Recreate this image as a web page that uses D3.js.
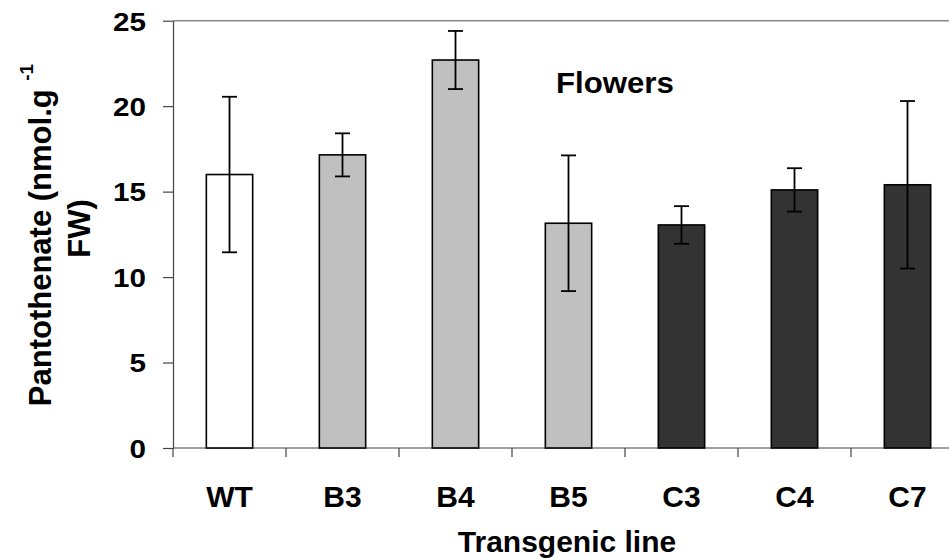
<!DOCTYPE html>
<html lang="en">
<head>
<meta charset="utf-8">
<title>Pantothenate - Flowers</title>
<style>
	body {
		margin: 0px;
		background-color: #ffffff;
		overflow: hidden;
	}
	text {
		font-family: "Liberation Sans", Arial, sans-serif;
		font-weight: bold;
		fill: #000;
	}
</style>
</head>
<body>
<svg id="chart" width="949" height="559"></svg>
<script src="https://cdn.jsdelivr.net/npm/d3@7/dist/d3.min.js"></script>
<script>
// values
var lines = ["WT", "B3", "B4", "B5", "C3", "C4", "C7"];
var means = [16.0, 17.15, 22.7, 13.15, 13.05, 15.1, 15.4];
var errs = [4.55, 1.26, 1.7, 3.97, 1.1, 1.27, 4.9];
var groups = ["WT", "B", "B", "B", "C", "C", "C"];
var yTicks = [0, 5, 10, 15, 20, 25];

var svg = d3.select("#chart");
// note: "top" is a read-only global in browsers, so use other names
var plotLeft = 173, plotRight = 964, plotTop = 20.7, plotBottom = 448;

var x = d3.scaleBand()
	.domain(lines)
	.range([plotLeft, plotRight])
	.paddingInner(0.59)
	.paddingOuter(0.295);

var y = d3.scaleLinear()
	.domain([0, 25])
	.range([plotBottom, plotTop]);

var fill = d3.scaleOrdinal()
	.domain(["WT", "B", "C"])
	.range(["#ffffff", "#c0c0c0", "#333333"]);

// top frame line
svg.append("line")
	.attr("x1", plotLeft).attr("x2", 949)
	.attr("y1", y(25)).attr("y2", y(25))
	.attr("stroke", "#888").attr("stroke-width", 1.4);

// y axis
var yAxis = svg.append("g")
	.attr("transform", "translate(" + plotLeft + ",0)")
	.call(d3.axisLeft(y).tickValues(yTicks).tickSize(10).tickPadding(13).tickSizeOuter(0));
yAxis.select(".domain").attr("stroke", "#444").attr("stroke-width", 1.2);
yAxis.selectAll(".tick line").attr("stroke", "#444").attr("stroke-width", 1.2);
yAxis.selectAll(".tick text")
	.style("font-size", "26px")
	.attr("dy", "0.36em")
	.attr("transform", "scale(1.14,1)")
	.attr("x", -23.7);

// x axis line + category ticks at band edges
svg.append("line")
	.attr("x1", plotLeft).attr("x2", 949)
	.attr("y1", plotBottom).attr("y2", plotBottom)
	.attr("stroke", "#444").attr("stroke-width", 1.2);

svg.selectAll(".cattick")
	.data(d3.range(lines.length + 1))
	.enter().append("line")
	.attr("class", "cattick")
	.attr("x1", function(i) { return plotLeft + i * x.step(); })
	.attr("x2", function(i) { return plotLeft + i * x.step(); })
	.attr("y1", plotBottom).attr("y2", plotBottom + 9)
	.attr("stroke", "#444").attr("stroke-width", 1.2);

// bars
svg.selectAll(".bar")
	.data(lines)
	.enter().append("rect")
	.attr("class", "bar")
	.attr("x", function(d) { return x(d); })
	.attr("width", x.bandwidth())
	.attr("y", function(d, i) { return y(means[i]); })
	.attr("height", function(d, i) { return y(0) - y(means[i]); })
	.attr("fill", function(d, i) { return fill(groups[i]); })
	.attr("stroke", "#000")
	.attr("stroke-width", 1.6);

// error bars
var cx = function(d) { return x(d) + x.bandwidth() / 2; };
var eb = svg.selectAll(".err")
	.data(lines)
	.enter().append("g")
	.attr("class", "err")
	.attr("stroke", "#000")
	.attr("stroke-width", 1.8);

eb.append("line")
	.attr("x1", cx).attr("x2", cx)
	.attr("y1", function(d, i) { return y(means[i] + errs[i]); })
	.attr("y2", function(d, i) { return y(means[i] - errs[i]); });
eb.append("line")
	.attr("x1", function(d) { return cx(d) - 7.5; })
	.attr("x2", function(d) { return cx(d) + 7.5; })
	.attr("y1", function(d, i) { return y(means[i] + errs[i]); })
	.attr("y2", function(d, i) { return y(means[i] + errs[i]); });
eb.append("line")
	.attr("x1", function(d) { return cx(d) - 7.5; })
	.attr("x2", function(d) { return cx(d) + 7.5; })
	.attr("y1", function(d, i) { return y(means[i] - errs[i]); })
	.attr("y2", function(d, i) { return y(means[i] - errs[i]); });

// category labels
svg.selectAll(".catlabel")
	.data(lines)
	.enter().append("text")
	.attr("class", "catlabel")
	.attr("x", cx)
	.attr("y", 506.7)
	.attr("text-anchor", "middle")
	.style("font-size", "30px")
	.text(function(d) { return d; });

// axis titles
svg.append("text")
	.attr("x", 567)
	.attr("y", 551.7)
	.attr("text-anchor", "middle")
	.style("font-size", "30px")
	.text("Transgenic line");

var yt = svg.append("text")
	.attr("transform", "translate(50.7,235) rotate(-90)")
	.attr("text-anchor", "middle")
	.style("font-size", "31px");
yt.append("tspan").text("Pantothenate (nmol.g ");
yt.append("tspan")
	.attr("dy", -18)
	.style("font-size", "19px")
	.text("-1");

svg.append("text")
	.attr("transform", "translate(90,228.5) rotate(-90)")
	.attr("text-anchor", "middle")
	.style("font-size", "31px")
	.text("FW)");

// panel label
svg.append("text")
	.attr("x", 556)
	.attr("y", 93.3)
	.style("font-size", "30px")
	.attr("transform", "translate(556,0) scale(1.04,1) translate(-556,0)")
	.text("Flowers");
</script>
</body>
</html>
